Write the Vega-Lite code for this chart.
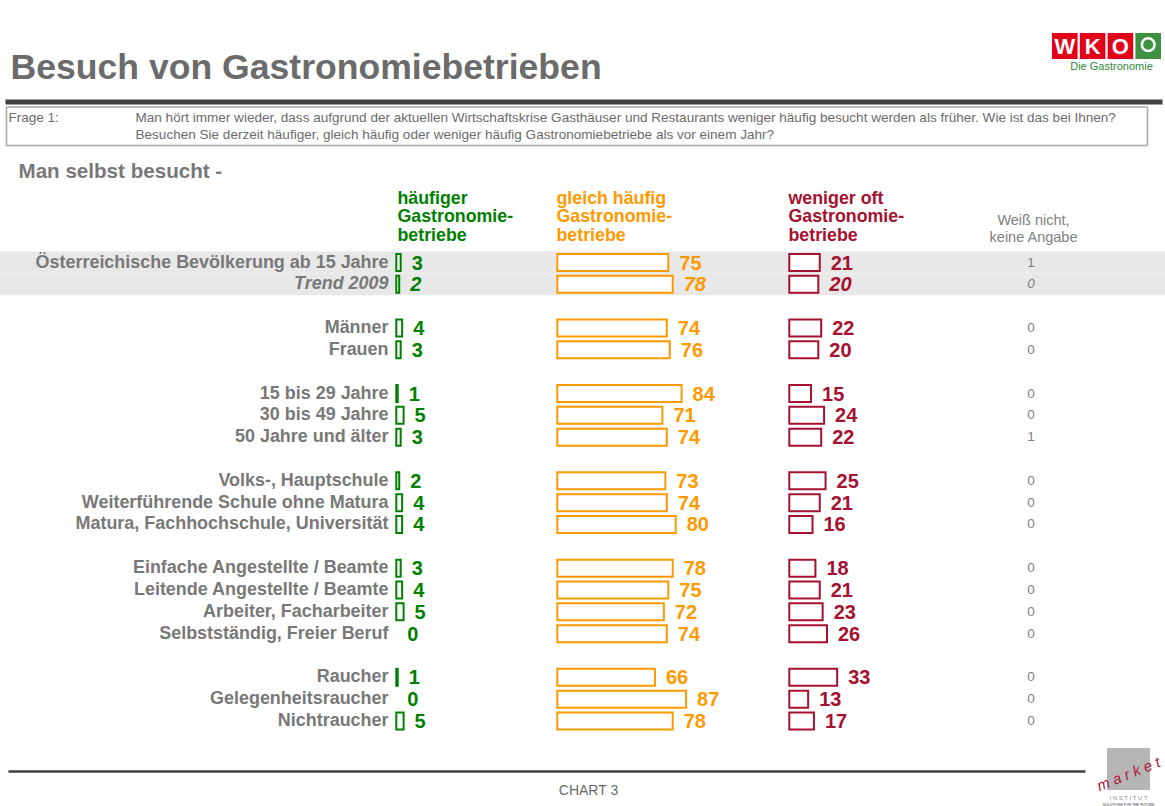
{
  "$schema": "https://vega.github.io/schema/vega-lite/v6.json",
  "width": 1165,
  "height": 806,
  "autosize": {"type": "none"},
  "padding": 0,
  "background": "#ffffff",
  "config": {
    "view": {"stroke": null},
    "font": "Liberation Sans",
    "axis": {"grid": false, "domain": false, "ticks": false, "labels": false, "titleLimit": 2000}
  },
  "datasets": {
    "rows": [
      {"gruppe": "Österreichische Bevölkerung ab 15 Jahre", "mehr": 3, "gleich": 75, "weniger": 21, "wn": 1},
      {"gruppe": "Trend 2009", "mehr": 2, "gleich": 78, "weniger": 20, "wn": 0},
      {"gruppe": "Männer", "mehr": 4, "gleich": 74, "weniger": 22, "wn": 0},
      {"gruppe": "Frauen", "mehr": 3, "gleich": 76, "weniger": 20, "wn": 0},
      {"gruppe": "15 bis 29 Jahre", "mehr": 1, "gleich": 84, "weniger": 15, "wn": 0},
      {"gruppe": "30 bis 49 Jahre", "mehr": 5, "gleich": 71, "weniger": 24, "wn": 0},
      {"gruppe": "50 Jahre und älter", "mehr": 3, "gleich": 74, "weniger": 22, "wn": 1},
      {"gruppe": "Volks-, Hauptschule", "mehr": 2, "gleich": 73, "weniger": 25, "wn": 0},
      {"gruppe": "Weiterführende Schule ohne Matura", "mehr": 4, "gleich": 74, "weniger": 21, "wn": 0},
      {"gruppe": "Matura, Fachhochschule, Universität", "mehr": 4, "gleich": 80, "weniger": 16, "wn": 0},
      {"gruppe": "Einfache Angestellte / Beamte", "mehr": 3, "gleich": 78, "weniger": 18, "wn": 0},
      {"gruppe": "Leitende Angestellte / Beamte", "mehr": 4, "gleich": 75, "weniger": 21, "wn": 0},
      {"gruppe": "Arbeiter, Facharbeiter", "mehr": 5, "gleich": 72, "weniger": 23, "wn": 0},
      {"gruppe": "Selbstständig, Freier Beruf", "mehr": 0, "gleich": 74, "weniger": 26, "wn": 0},
      {"gruppe": "Raucher", "mehr": 1, "gleich": 66, "weniger": 33, "wn": 0},
      {"gruppe": "Gelegenheitsraucher", "mehr": 0, "gleich": 87, "weniger": 13, "wn": 0},
      {"gruppe": "Nichtraucher", "mehr": 5, "gleich": 78, "weniger": 17, "wn": 0}
    ]
  },
  "layer": [
    {
      "data": {"name": "rows"},
      "encoding": {
        "y": {
          "field": "gruppe",
          "type": "nominal",
          "sort": null,
          "scale": {
            "domain": ["Österreichische Bevölkerung ab 15 Jahre", "Trend 2009", " ", "Männer", "Frauen", "  ", "15 bis 29 Jahre", "30 bis 49 Jahre", "50 Jahre und älter", "   ", "Volks-, Hauptschule", "Weiterführende Schule ohne Matura", "Matura, Fachhochschule, Universität", "    ", "Einfache Angestellte / Beamte", "Leitende Angestellte / Beamte", "Arbeiter, Facharbeiter", "Selbstständig, Freier Beruf", "     ", "Raucher", "Gelegenheitsraucher", "Nichtraucher"],
            "range": [251.6, 731.9],
            "paddingInner": 0,
            "paddingOuter": 0
          },
          "axis": {
            "orient": "left",
            "offset": -388,
            "labels": true,
            "labelPadding": 0,
            "labelFont": "Liberation Sans",
            "labelFontSize": 17.95,
            "labelFontWeight": "bold",
            "labelColor": "#787878",
            "labelLimit": 600,
            "labelOverlap": false,
            "labelFontStyle": {"condition": {"test": "datum.value === 'Trend 2009'", "value": "italic"}, "value": "normal"},
            "title": "Man selbst besucht -",
            "titleAngle": 0,
            "titleX": -370,
            "titleY": 171,
            "titleAlign": "left",
            "titleBaseline": "middle",
            "titleFontSize": 20.6,
            "titleFontWeight": "bold",
            "titleColor": "#787878",
            "zindex": 1
          }
        }
      },
      "layer": [
        {
          "transform": [{"filter": "datum.gruppe === 'Österreichische Bevölkerung ab 15 Jahre' || datum.gruppe === 'Trend 2009'"}],
          "mark": {"type": "rect", "color": "#e8e8e8"}
        },
        {
          "transform": [{"filter": "datum.mehr > 0"}],
          "mark": {"type": "bar", "fill": "#ffffff", "stroke": "#008000", "strokeWidth": 2, "height": {"band": 0.78}},
          "encoding": {
            "x": {
              "field": "mehr", "type": "quantitative",
              "scale": {"domain": [0, 100], "range": [396.3, 542.3]},
              "axis": {"orient": "top", "title": ["häufiger", "Gastronomie-", "betriebe"], "titleX": 397, "titleY": 203, "titleAlign": "left", "titleBaseline": "alphabetic", "titleAngle": 0, "titleFontSize": 17.8, "titleFontWeight": "bold", "titleColor": "#008000", "titleLineHeight": 18.7}
            }
          }
        },
        {
          "mark": {"type": "text", "align": "left", "baseline": "middle", "dx": 11, "dy": 1, "fontSize": 20, "fontWeight": "bold", "color": "#008000", "fontStyle": {"expr": "datum.gruppe === 'Trend 2009' ? 'italic' : 'normal'"}},
          "encoding": {
            "x": {"field": "mehr", "type": "quantitative", "scale": {"domain": [0, 100], "range": [396.3, 542.3]}, "axis": null},
            "text": {"field": "mehr", "type": "quantitative"}
          }
        },
        {
          "mark": {"type": "bar", "fill": "#ffffff", "stroke": "#ff9900", "strokeWidth": 2, "height": {"band": 0.78}},
          "encoding": {
            "x": {
              "field": "gleich", "type": "quantitative",
              "scale": {"domain": [0, 100], "range": [557.3, 705.3]},
              "axis": {"orient": "top", "title": ["gleich häufig", "Gastronomie-", "betriebe"], "titleX": 556, "titleY": 203, "titleAlign": "left", "titleBaseline": "alphabetic", "titleAngle": 0, "titleFontSize": 17.8, "titleFontWeight": "bold", "titleColor": "#ff9900", "titleLineHeight": 18.7}
            }
          }
        },
        {
          "mark": {"type": "text", "align": "left", "baseline": "middle", "dx": 11, "dy": 1, "fontSize": 20, "fontWeight": "bold", "color": "#ff9900", "fontStyle": {"expr": "datum.gruppe === 'Trend 2009' ? 'italic' : 'normal'"}},
          "encoding": {
            "x": {"field": "gleich", "type": "quantitative", "scale": {"domain": [0, 100], "range": [557.3, 705.3]}, "axis": null},
            "text": {"field": "gleich", "type": "quantitative"}
          }
        },
        {
          "mark": {"type": "bar", "fill": "#ffffff", "stroke": "#a5112f", "strokeWidth": 2, "height": {"band": 0.78}},
          "encoding": {
            "x": {
              "field": "weniger", "type": "quantitative",
              "scale": {"domain": [0, 100], "range": [789.3, 934.3]},
              "axis": {"orient": "top", "title": ["weniger oft", "Gastronomie-", "betriebe"], "titleX": 788, "titleY": 203, "titleAlign": "left", "titleBaseline": "alphabetic", "titleAngle": 0, "titleFontSize": 17.8, "titleFontWeight": "bold", "titleColor": "#a5112f", "titleLineHeight": 18.7}
            }
          }
        },
        {
          "mark": {"type": "text", "align": "left", "baseline": "middle", "dx": 11, "dy": 1, "fontSize": 20, "fontWeight": "bold", "color": "#a5112f", "fontStyle": {"expr": "datum.gruppe === 'Trend 2009' ? 'italic' : 'normal'"}},
          "encoding": {
            "x": {"field": "weniger", "type": "quantitative", "scale": {"domain": [0, 100], "range": [789.3, 934.3]}, "axis": null},
            "text": {"field": "weniger", "type": "quantitative"}
          }
        },
        {
          "mark": {"type": "text", "align": "center", "baseline": "middle", "fontSize": 13.5, "color": "#7f7f7f", "fontStyle": {"expr": "datum.gruppe === 'Trend 2009' ? 'italic' : 'normal'"}},
          "encoding": {
            "x": {
              "datum": 0, "type": "quantitative",
              "scale": {"domain": [0, 1], "range": [1031, 1131]},
              "axis": {"orient": "top", "title": ["Weiß nicht,", "keine Angabe"], "titleX": 1033, "titleY": 224, "titleAlign": "center", "titleBaseline": "alphabetic", "titleAngle": 0, "titleFontSize": 14.5, "titleFontWeight": "normal", "titleColor": "#808080", "titleLineHeight": 17}
            },
            "text": {"field": "wn", "type": "quantitative"}
          }
        }
      ],
      "resolve": {"scale": {"x": "independent", "y": "shared"}}
    },
    {
      "data": {"values": [{}]},
      "mark": {"type": "rule", "opacity": 0},
      "encoding": {
        "x": {
          "datum": 0, "type": "quantitative",
          "scale": {"domain": [0, 1], "range": [5, 1162]},
          "axis": {"orient": "top", "offset": -101.5, "domain": true, "domainWidth": 5, "domainColor": "#404040", "title": "Besuch von Gastronomiebetrieben", "titleX": 10, "titleY": -23, "titleAlign": "left", "titleBaseline": "alphabetic", "titleAngle": 0, "titleFontSize": 35.6, "titleFontWeight": "bold", "titleColor": "#6b6b6b"}
        }
      }
    },
    {
      "data": {"values": [{}]},
      "mark": {"type": "rule", "opacity": 0},
      "encoding": {
        "x": {
          "datum": 0, "type": "quantitative",
          "scale": {"domain": [0, 1], "range": [5.5, 1147]},
          "axis": {"orient": "top", "offset": -106.5, "domain": true, "domainWidth": 1.5, "domainColor": "#a6a6a6", "ticks": true, "values": [0, 1], "tickSize": -38.5, "tickWidth": 1.5, "tickColor": "#a6a6a6", "title": "Frage 1:", "titleX": 8, "titleY": 15, "titleAlign": "left", "titleBaseline": "alphabetic", "titleAngle": 0, "titleFontSize": 13.5, "titleFontWeight": "normal", "titleColor": "#6b6b6b"}
        }
      }
    },
    {
      "data": {"values": [{}]},
      "mark": {"type": "rule", "opacity": 0},
      "encoding": {
        "x": {
          "datum": 0, "type": "quantitative",
          "scale": {"domain": [0, 1], "range": [5.5, 1147]},
          "axis": {"orient": "top", "offset": -145, "domain": true, "domainWidth": 1.5, "domainColor": "#a6a6a6", "title": ["Man hört immer wieder, dass aufgrund der aktuellen Wirtschaftskrise Gasthäuser und Restaurants weniger häufig besucht werden als früher. Wie ist das bei Ihnen?", "Besuchen Sie derzeit häufiger, gleich häufig oder weniger häufig Gastronomiebetriebe als vor einem Jahr?"], "titleX": 135, "titleY": -23.5, "titleAlign": "left", "titleBaseline": "alphabetic", "titleAngle": 0, "titleFontSize": 13.56, "titleFontWeight": "normal", "titleColor": "#6b6b6b", "titleLineHeight": 17}
        }
      }
    },
    {
      "data": {"values": [{}]},
      "mark": {"type": "rule", "opacity": 0},
      "encoding": {
        "x": {
          "datum": 0, "type": "quantitative",
          "scale": {"domain": [0, 1], "range": [8, 1085]},
          "axis": {"orient": "bottom", "offset": -35, "domain": true, "domainWidth": 2.5, "domainColor": "#404040", "title": "CHART 3", "titleX": 588, "titleY": 19, "titleAlign": "center", "titleBaseline": "middle", "titleAngle": 0, "titleFontSize": 14, "titleFontWeight": "normal", "titleColor": "#6b6b6b"}
        }
      }
    },
    {
      "data": {"values": [{"teil": "W"}, {"teil": "K"}, {"teil": "O"}, {"teil": "icon"}]},
      "encoding": {
        "x": {
          "field": "teil", "type": "nominal", "sort": null,
          "scale": {"domain": ["W", "K", "O", "icon"], "range": [1052, 1161], "paddingInner": 0.08, "paddingOuter": 0},
          "axis": {"orient": "top", "title": "Die Gastronomie", "titleX": 1111, "titleY": 66, "titleAlign": "center", "titleBaseline": "middle", "titleAngle": 0, "titleFontSize": 11, "titleFontWeight": "normal", "titleColor": "#2f8a3a"}
        }
      },
      "layer": [
        {
          "mark": {"type": "rect"},
          "encoding": {
            "y": {"datum": 0, "type": "quantitative", "scale": {"domain": [0, 1], "range": [33, 59]}, "axis": null},
            "y2": {"datum": 1},
            "color": {"condition": {"test": "datum.teil === 'icon'", "value": "#3d9140"}, "value": "#e3001b"}
          }
        },
        {
          "transform": [{"filter": "datum.teil !== 'icon'"}],
          "mark": {"type": "text", "color": "#ffffff", "fontSize": 22, "fontWeight": "bold", "baseline": "middle", "dy": 1},
          "encoding": {
            "y": {"datum": 0.5, "type": "quantitative", "scale": {"domain": [0, 1], "range": [33, 59]}, "axis": null},
            "text": {"field": "teil", "type": "nominal"}
          }
        },
        {
          "transform": [{"filter": "datum.teil === 'icon'"}],
          "mark": {"type": "point", "shape": "circle", "filled": false, "stroke": "#ffffff", "strokeWidth": 2.5, "size": 160, "opacity": 1},
          "encoding": {
            "y": {"datum": 0.45, "type": "quantitative", "scale": {"domain": [0, 1], "range": [33, 59]}, "axis": null}
          }
        }
      ],
      "resolve": {"scale": {"y": "shared"}}
    },
    {
      "data": {"values": [{}]},
      "layer": [
        {
          "mark": {"type": "rect", "color": "#b5b5b5"},
          "encoding": {
            "x": {"datum": 0, "type": "quantitative", "scale": {"domain": [0, 1], "range": [1107, 1150]}, "axis": null},
            "x2": {"datum": 1},
            "y": {"datum": 0, "type": "quantitative", "scale": {"domain": [0, 1], "range": [748, 790]}, "axis": null},
            "y2": {"datum": 1}
          }
        },
        {
          "mark": {"type": "text", "text": "m a r k e t", "angle": 338, "fontStyle": "italic", "fontSize": 15, "color": "#b01540", "baseline": "middle"},
          "encoding": {
            "x": {"datum": 0.5, "type": "quantitative", "scale": {"domain": [0, 1], "range": [1107, 1150]}, "axis": null},
            "y": {"datum": 0.62, "type": "quantitative", "scale": {"domain": [0, 1], "range": [748, 790]}, "axis": null}
          }
        },
        {
          "mark": {"type": "text", "text": "I N S T I T U T", "fontSize": 6, "color": "#8c8c8c", "baseline": "middle"},
          "encoding": {
            "x": {"datum": 0.5, "type": "quantitative", "scale": {"domain": [0, 1], "range": [1107, 1150]}, "axis": null},
            "y": {"datum": 1.2, "type": "quantitative", "scale": {"domain": [0, 1], "range": [748, 790]}, "axis": null}
          }
        },
        {
          "mark": {"type": "text", "text": "SOLUTIONS FOR THE FUTURE", "fontSize": 3.5, "color": "#333333", "baseline": "middle"},
          "encoding": {
            "x": {"datum": 0.5, "type": "quantitative", "scale": {"domain": [0, 1], "range": [1107, 1150]}, "axis": null},
            "y": {"datum": 1.36, "type": "quantitative", "scale": {"domain": [0, 1], "range": [748, 790]}, "axis": null}
          }
        }
      ]
    }
  ],
  "resolve": {"scale": {"x": "independent", "y": "independent"}}
}
